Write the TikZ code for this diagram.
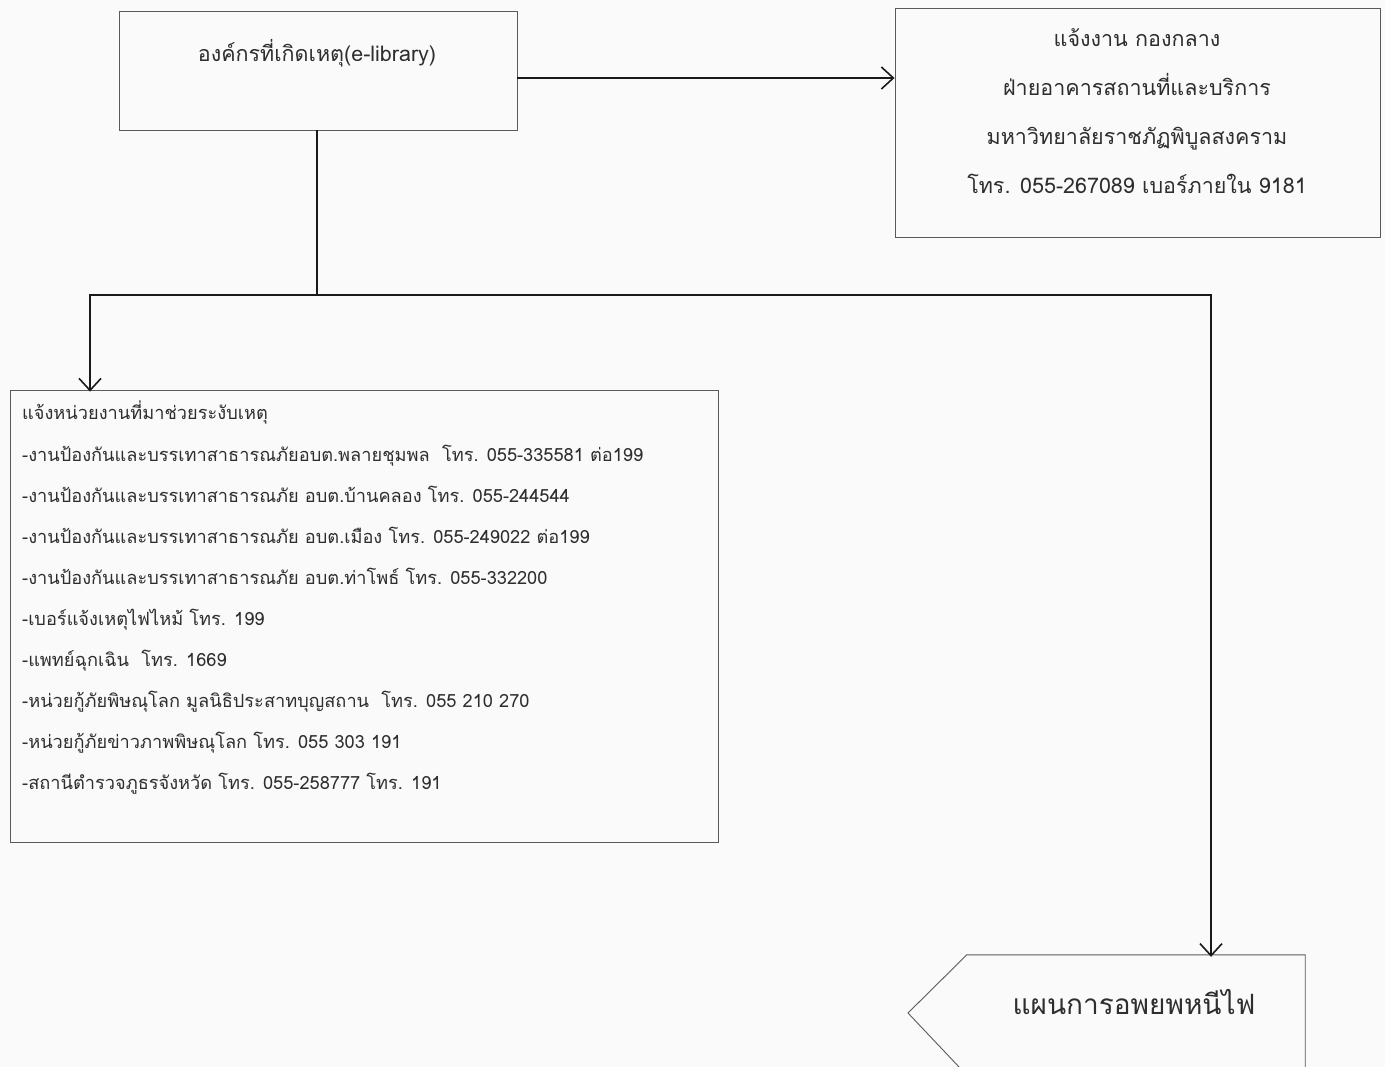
\documentclass[tikz,border=0pt]{standalone}
\usepackage{fontspec}
\newfontfamily\thaifont[Script=Thai]{Loma}
\usetikzlibrary{arrows.meta,calc}
\definecolor{boxline}{HTML}{5A5A5A}
\definecolor{txt}{HTML}{2E2E2E}
\definecolor{bg}{HTML}{FAFAFA}
\tikzset{
  boxnode/.style={draw=boxline,line width=0.9pt,rectangle,inner sep=0pt},
  conn/.style={draw=black!90,line width=1.6pt},
  arr/.style={conn,-{Straight Barb[length=12pt,width=22pt,line width=1.6pt]}},
  txtnode/.style={text=txt,inner sep=0pt,font=\thaifont},
}
\begin{document}
\begin{tikzpicture}[x=1pt,y=-1pt]
\fill[bg] (0,0) rectangle (1385,1067);
\useasboundingbox (0,0) rectangle (1385,1067);
\clip (0,0) rectangle (1385,1067);
% boxes
\node[boxnode,minimum width=398pt,minimum height=119pt] (b1) at (318,70.5) {};
\node[txtnode,font=\thaifont\fontsize{21.5pt}{26pt}\selectfont] (t1) at (317,53) {องค์กรที่เกิดเหตุ(e-library)};
\node[boxnode,minimum width=485pt,minimum height=229pt] (b2) at (1137.5,122.5) {};
\node[txtnode,align=center,font=\thaifont\fontsize{21.5pt}{49pt}\selectfont] (t2) at (1137,111) {แจ้งงาน กองกลาง\\ฝ่ายอาคารสถานที่และบริการ\\มหาวิทยาลัยราชภัฏพิบูลสงคราม\\โทร. 055-267089 เบอร์ภายใน 9181};
\node[boxnode,minimum width=708pt,minimum height=452pt] (b3) at (364,616) {};
\node[txtnode,align=left,anchor=north west,font=\thaifont\fontsize{18.2pt}{41.1pt}\selectfont] (t3) at (22,401) {แจ้งหน่วยงานที่มาช่วยระงับเหตุ\\
-งานป้องกันและบรรเทาสาธารณภัยอบต.พลายชุมพล\ \ โทร. 055-335581 ต่อ199\\
-งานป้องกันและบรรเทาสาธารณภัย อบต.บ้านคลอง โทร. 055-244544\\
-งานป้องกันและบรรเทาสาธารณภัย อบต.เมือง โทร. 055-249022 ต่อ199\\
-งานป้องกันและบรรเทาสาธารณภัย อบต.ท่าโพธ์ โทร. 055-332200\\
-เบอร์แจ้งเหตุไฟไหม้ โทร. 199\\
-แพทย์ฉุกเฉิน\ \ โทร. 1669\\
-หน่วยกู้ภัยพิษณุโลก มูลนิธิประสาทบุญสถาน\ \ โทร. 055 210 270\\
-หน่วยกู้ภัยข่าวภาพพิษณุโลก โทร. 055 303 191\\
-สถานีตำรวจภูธรจังหวัด โทร. 055-258777 โทร. 191};
% pentagon (off-page connector)
\node[inner sep=0pt,minimum width=338pt,minimum height=120pt] (b4) at (1136,1015) {};
\draw[boxline,line width=0.9pt] (b4.north west) -- (b4.north east) -- (b4.south east) -- (b4.south west) -- (908,1013) -- cycle;
\node[txtnode,font=\thaifont\fontsize{28pt}{32pt}\selectfont] (t4) at (1134,1002) {แผนการอพยพหนีไฟ};
% connectors
\coordinate (j) at (317,295);
\coordinate (jl) at (90,295);
\coordinate (jr) at (1211,295);
\draw[arr] ([yshift=-7.5pt]b1.east) -- ([yshift=-7.5pt]b1.east -| b2.west);
\draw[conn] (b1.south -| j) -- (j);
\draw[arr] (j) -- (jl) -- ([yshift=-2pt]jl |- b3.north);
\draw[arr] (j) -- (jr) -- ([yshift=-2pt]jr |- b4.north);
\end{tikzpicture}
\end{document}
